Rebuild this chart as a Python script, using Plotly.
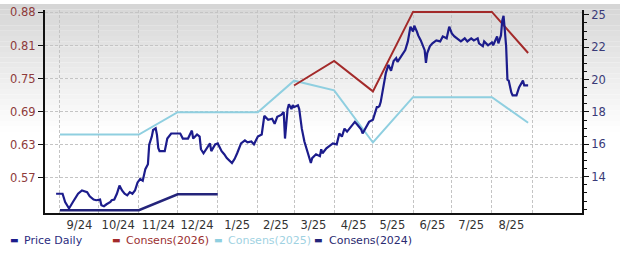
import plotly.graph_objects as go

# ---------------- data ----------------
price_dates = [
    "2024-08-29", "2024-09-03", "2024-09-05", "2024-09-08", "2024-09-11", "2024-09-15",
    "2024-09-18", "2024-09-22", "2024-09-24", "2024-09-27", "2024-09-29", "2024-10-02",
    "2024-10-03", "2024-10-05", "2024-10-07", "2024-10-10", "2024-10-11", "2024-10-13",
    "2024-10-15", "2024-10-17", "2024-10-19", "2024-10-21", "2024-10-23", "2024-10-25",
    "2024-10-27", "2024-10-29", "2024-10-31", "2024-11-02", "2024-11-04", "2024-11-06",
    "2024-11-08", "2024-11-09", "2024-11-11", "2024-11-12", "2024-11-14", "2024-11-15",
    "2024-11-16", "2024-11-17", "2024-11-18", "2024-11-21", "2024-11-23", "2024-11-26",
    "2024-12-03", "2024-12-05", "2024-12-09", "2024-12-12", "2024-12-13", "2024-12-16",
    "2024-12-18", "2024-12-19", "2024-12-21", "2024-12-23", "2024-12-26", "2024-12-27",
    "2024-12-30", "2025-01-01", "2025-01-04", "2025-01-06", "2025-01-08", "2025-01-12",
    "2025-01-14", "2025-01-16", "2025-01-19", "2025-01-22", "2025-01-24", "2025-01-27",
    "2025-01-29", "2025-02-01", "2025-02-04", "2025-02-06", "2025-02-09", "2025-02-12",
    "2025-02-14", "2025-02-16", "2025-02-19", "2025-02-21", "2025-02-22", "2025-02-24",
    "2025-02-25", "2025-02-27", "2025-02-28", "2025-03-01", "2025-03-04", "2025-03-05",
    "2025-03-07", "2025-03-09", "2025-03-11", "2025-03-14", "2025-03-15", "2025-03-18",
    "2025-03-21", "2025-03-22", "2025-03-23", "2025-03-26", "2025-03-28", "2025-03-31",
    "2025-04-03", "2025-04-05", "2025-04-07", "2025-04-09", "2025-04-11", "2025-04-14",
    "2025-04-17", "2025-04-19", "2025-04-22", "2025-04-23", "2025-04-26", "2025-04-28",
    "2025-05-01", "2025-05-04", "2025-05-05", "2025-05-06", "2025-05-07", "2025-05-09",
    "2025-05-11", "2025-05-13", "2025-05-15", "2025-05-17", "2025-05-19", "2025-05-20",
    "2025-05-22", "2025-05-24", "2025-05-26", "2025-05-28", "2025-05-29", "2025-05-30",
    "2025-06-01", "2025-06-02", "2025-06-04", "2025-06-05", "2025-06-07", "2025-06-08",
    "2025-06-10", "2025-06-11", "2025-06-12", "2025-06-14", "2025-06-16", "2025-06-19",
    "2025-06-22", "2025-06-24", "2025-06-27", "2025-06-29", "2025-07-01", "2025-07-03",
    "2025-07-05", "2025-07-08", "2025-07-11", "2025-07-13", "2025-07-16", "2025-07-18",
    "2025-07-21", "2025-07-22", "2025-07-25", "2025-07-26", "2025-07-29", "2025-08-01",
    "2025-08-02", "2025-08-05", "2025-08-06", "2025-08-08", "2025-08-09", "2025-08-10",
    "2025-08-11", "2025-08-12", "2025-08-13", "2025-08-14", "2025-08-16", "2025-08-17",
    "2025-08-20", "2025-08-22", "2025-08-25", "2025-08-26", "2025-08-29",
]
price_vals = [
    12.95, 12.95, 12.44, 12.04, 12.44, 12.95,
    13.15, 13.05, 12.79, 12.59, 12.55, 12.59,
    12.24, 12.18, 12.30, 12.44, 12.55, 12.59,
    12.95, 13.45, 13.15, 12.95, 12.85, 13.05,
    12.95, 13.15, 13.65, 13.86, 13.76, 14.47,
    14.77, 15.98, 16.48, 16.89, 16.99, 16.59,
    15.78, 15.58, 15.58, 15.58, 16.36, 16.67,
    16.67, 16.36, 16.36, 16.85, 16.36, 16.61,
    16.48, 15.70, 15.45, 15.70, 16.06, 15.58,
    16.00, 16.06, 15.58, 15.39, 15.15, 14.85,
    15.09, 15.45, 16.06, 16.24, 16.12, 16.18,
    16.00, 16.48, 16.61, 17.76, 17.52, 17.58,
    17.27, 17.70, 17.82, 18.00, 16.36, 18.18,
    18.48, 18.18, 18.42, 18.30, 18.42, 18.18,
    16.97, 16.18, 15.70, 14.85, 15.15, 15.39,
    15.27, 15.70, 15.45, 15.76, 15.88, 16.06,
    16.00, 16.67, 16.48, 16.97, 16.79, 17.09,
    17.39, 17.21, 16.91, 16.67, 17.09, 17.39,
    17.52, 18.30, 18.30, 18.36, 18.61, 19.64,
    20.42, 20.91, 20.55, 21.15, 21.33, 21.09,
    21.33, 21.64, 21.82, 22.36, 22.85, 23.27,
    22.97, 23.33, 22.97, 22.73, 22.42, 22.24,
    21.82, 21.03, 21.64, 22.06, 22.24, 22.42,
    22.36, 22.67, 22.55, 23.27, 22.85, 22.67,
    22.55, 22.36, 22.55, 22.36, 22.55, 22.42,
    22.55, 22.24, 22.06, 22.36, 22.12, 22.30,
    22.12, 22.67, 22.24, 22.73, 23.64, 23.94,
    23.03, 22.06, 20.00, 19.94, 19.21, 19.03,
    19.03, 19.52, 19.94, 19.64, 19.64,
]

c2026_dates = ["2025-03-01", "2025-04-01", "2025-05-01", "2025-06-01", "2025-08-01", "2025-08-29"]
c2026_vals = [0.743, 0.789, 0.732, 0.881, 0.881, 0.804]

c2025_dates = ["2024-09-01", "2024-11-01", "2024-12-01", "2025-02-01", "2025-03-01",
               "2025-04-01", "2025-05-01", "2025-06-01", "2025-08-01", "2025-08-29"]
c2025_vals = [0.651, 0.651, 0.693, 0.693, 0.752, 0.734, 0.636, 0.721, 0.721, 0.673]

c2024_dates = ["2024-09-01", "2024-11-01", "2024-12-01", "2025-01-01"]
c2024_vals = [0.509, 0.509, 0.539, 0.539]

left_tickvals = [0.57, 0.632, 0.694, 0.756, 0.818, 0.88]
left_ticktext = ["0.57", "0.63", "0.69", "0.75", "0.81", "0.88"]
right_tickvals = [14, 16, 18, 20, 22, 24]
right_ticktext = ["14", "16", "18", "20", "22", "25"]

month_labels_at = ["2024-09-16", "2024-10-16", "2024-11-16", "2024-12-16", "2025-01-16",
                   "2025-02-15", "2025-03-16", "2025-04-16", "2025-05-16", "2025-06-16",
                   "2025-07-16", "2025-08-16"]
month_labels = ["9/24", "10/24", "11/24", "12/24", "1/25", "2/25", "3/25", "4/25",
                "5/25", "6/25", "7/25", "8/25"]
month_starts = ["2024-09-01", "2024-10-01", "2024-11-01", "2024-12-01", "2025-01-01",
                "2025-02-01", "2025-03-01", "2025-04-01", "2025-05-01", "2025-06-01",
                "2025-07-01", "2025-08-01", "2025-09-01"]

# ---------------- styles ----------------
NAVY = "#1c1c8c"
NAVY2 = "#24247a"
RED = "#a32a2a"
LBLUE = "#8fcfe0"
FONT = "DejaVu Sans"
W, H = 620, 256
ML, MR, MT, MB = 45, 38, 6, 43
PW, PH = W - ML - MR, H - MT - MB

fig = go.Figure()
fig.add_trace(go.Scatter(x=c2025_dates, y=c2025_vals, mode="lines", name="Consens(2025)",
                         line=dict(color=LBLUE, width=2), yaxis="y"))
fig.add_trace(go.Scatter(x=c2024_dates, y=c2024_vals, mode="lines", name="Consens(2024)",
                         line=dict(color=NAVY2, width=2.5), yaxis="y"))
fig.add_trace(go.Scatter(x=c2026_dates, y=c2026_vals, mode="lines", name="Consens(2026)",
                         line=dict(color=RED, width=2), yaxis="y"))
fig.add_trace(go.Scatter(x=price_dates, y=price_vals, mode="lines", name="Price Daily",
                         line=dict(color=NAVY, width=2.2), yaxis="y2"))

# background gradient (decorative)
shapes = []
nb = 24
top_px, bot_px = 0, 130
for i in range(nb):
    a = top_px + (bot_px - top_px) * i / nb
    b = top_px + (bot_px - top_px) * (i + 1) / nb
    g = int(214 + (255 - 214) * (i + 0.5) / nb)
    shapes.append(dict(type="rect", xref="paper", yref="paper",
                       x0=-ML / PW - 0.01, x1=1 + MR / PW + 0.01,
                       y0=(H - MB - b) / PH, y1=(H - MB - a) / PH,
                       fillcolor=f"rgb({g},{g},{g})", line=dict(width=0), layer="below"))

# legend as annotations
def px2paper_x(px):
    return (px - ML) / PW

leg_y = (H - MB - 241) / PH
legend_items = [
    (8, 22, NAVY, "Price Daily", "#2c2c80"),
    (110, 124, RED, "Consens(2026)", "#9b3030"),
    (212, 226, LBLUE, "Consens(2025)", "#9fd2e2"),
    (312, 327, NAVY2, "Consens(2024)", "#2a2a70"),
]
annotations = []
for dx, tx, col, label, tcol in legend_items:
    annotations.append(dict(x=px2paper_x(dx), y=leg_y, xref="paper", yref="paper",
                            xanchor="left", yanchor="middle", showarrow=False,
                            text="▬", font=dict(family=FONT, size=9, color=col)))
    annotations.append(dict(x=px2paper_x(tx), y=leg_y, xref="paper", yref="paper",
                            xanchor="left", yanchor="middle", showarrow=False,
                            text=label, font=dict(family=FONT, size=11, color=tcol)))

grid_col = "#c4c4c4"
fig.update_layout(
    width=W, height=H,
    margin=dict(l=ML, r=MR, t=MT, b=MB, pad=0),
    paper_bgcolor="white",
    plot_bgcolor="rgba(0,0,0,0)",
    showlegend=False,
    shapes=shapes,
    annotations=annotations,
    font=dict(family=FONT, size=11.5, color="#333333"),
    xaxis=dict(
        type="date",
        range=["2024-08-20 10:00", "2025-10-09 16:00"],
        tickmode="array", tickvals=month_labels_at, ticktext=month_labels,
        showgrid=False, ticks="", ticklen=0,
        tickfont=dict(family=FONT, size=11.5, color="#333333"),
        showline=True, linecolor="#111111", linewidth=2,
        minor=dict(tickmode="array", tickvals=month_starts, showgrid=True,
                   gridcolor=grid_col, griddash="3px,2px", gridwidth=1, ticks=""),
        zeroline=False, fixedrange=True,
    ),
    yaxis=dict(
        range=[0.5038, 0.8846],
        tickmode="array", tickvals=left_tickvals, ticktext=left_ticktext,
        tickfont=dict(family=FONT, size=11.5, color="#8e3b3b"),
        showgrid=True, gridcolor=grid_col, griddash="3px,2px", gridwidth=1,
        ticks="outside", ticklen=5, tickcolor="#111111", tickwidth=1,
        showline=True, linecolor="#111111", linewidth=2,
        zeroline=False,
    ),
    yaxis2=dict(
        range=[11.76, 24.30], overlaying="y", side="right",
        tickmode="array", tickvals=right_tickvals, ticktext=right_ticktext,
        tickfont=dict(family=FONT, size=11.5, color="#3a3a78"),
        showgrid=False,
        ticks="outside", ticklen=5, tickcolor="#111111", tickwidth=1,
        minor=dict(dtick=0.5, tick0=0, ticks="outside", ticklen=3,
                   tickcolor="#111111", showgrid=False),
        showline=True, linecolor="#111111", linewidth=2,
        zeroline=False,
    ),
)

fig.write_html("out.html")
